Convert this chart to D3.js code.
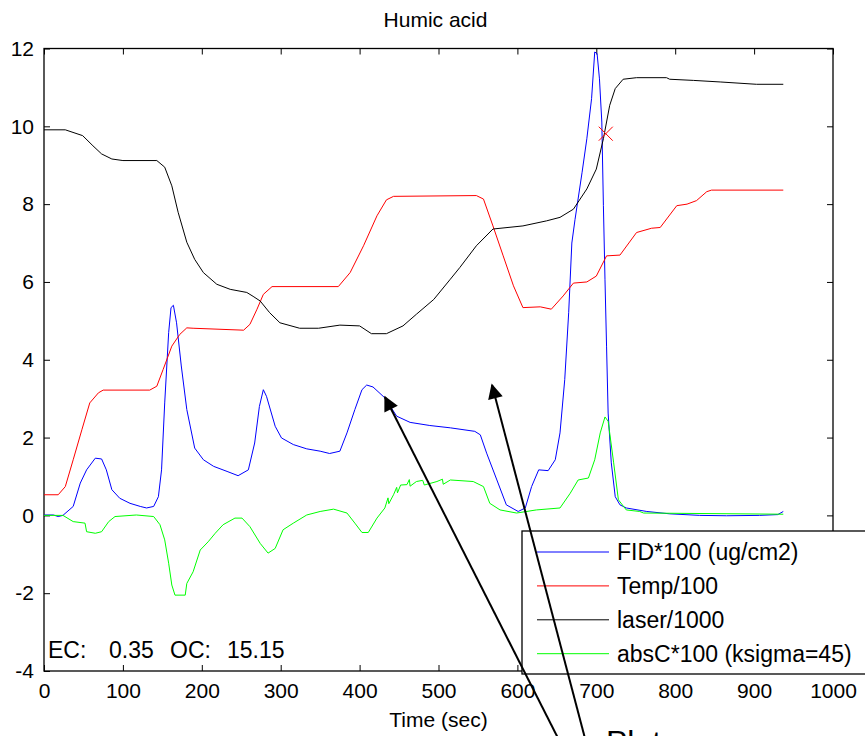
<!DOCTYPE html>
<html lang="en">
<head>
<meta charset="utf-8">
<title>Humic acid</title>
<script src="https://cdn.jsdelivr.net/npm/d3@7"></script>
<style>
  body { margin: 0; background: #fff; }
  svg { display: block; font-family: "Liberation Sans", Arial, sans-serif; }
</style>
</head>
<body>
<script>
// values: [time (sec), value]
var laser = [[0,9.91],[27,9.91],[49,9.76],[62,9.5],[73,9.29],[86,9.16],[100,9.12],[143,9.12],[153,8.95],
  [162,8.47],[170,7.79],[181,7.02],[191,6.58],[202,6.24],[219,5.94],[236,5.81],[257,5.73],[265,5.63],
  [274,5.51],[286,5.21],[299,4.95],[324,4.81],[348,4.81],[375,4.89],[400,4.87],[415,4.67],[434,4.67],
  [455,4.87],[472,5.17],[494,5.55],[515,6.07],[527,6.37],[548,6.93],[569,7.36],[607,7.44],[637,7.57],
  [654,7.66],[671,7.87],[688,8.39],[700,8.9],[709,9.68],[717,10.54],[724,10.97],[734,11.21],[751,11.25],
  [789,11.25],[793,11.21],[823,11.18],[857,11.14],[903,11.08],[937,11.08]];

var temp = [[0,0.53],[18,0.53],[27,0.74],[37,1.43],[48,2.2],[58,2.89],[69,3.15],[75,3.22],[134,3.22],
  [143,3.32],[151,3.75],[162,4.35],[172,4.65],[181,4.82],[189,4.81],[253,4.76],[261,4.91],[270,5.3],
  [278,5.68],[289,5.88],[373,5.88],[388,6.24],[405,6.93],[422,7.7],[434,8.11],[443,8.2],[548,8.22],
  [557,8.13],[569,7.44],[582,6.67],[595,5.9],[607,5.34],[629,5.36],[643,5.3],[658,5.64],[671,5.97],
  [688,6.0],[700,6.15],[713,6.67],[730,6.69],[751,7.27],[770,7.38],[781,7.4],[802,7.96],[815,8.0],
  [827,8.09],[840,8.32],[846,8.36],[937,8.36]];

var fid = [[0,0.01],[12,0.01],[18,-0.03],[24,0],[37,0.23],[46,0.83],[54,1.17],[65,1.47],[73,1.45],
  [79,1.17],[86,0.66],[96,0.44],[109,0.31],[122,0.23],[130,0.19],[139,0.23],[145,0.48],[149,1.17],
  [153,2.89],[158,4.7],[161,5.34],[164,5.4],[168,4.95],[174,3.84],[181,2.72],[191,1.73],[202,1.43],
  [215,1.26],[232,1.13],[246,1.02],[259,1.17],[267,1.86],[273,2.8],[278,3.23],[282,3.06],[293,2.29],
  [301,1.99],[316,1.82],[333,1.71],[350,1.65],[362,1.59],[375,1.65],[384,2.12],[394,2.72],[403,3.23],
  [409,3.35],[417,3.3],[432,3.02],[447,2.55],[464,2.39],[489,2.31],[515,2.25],[546,2.16],[553,2.07],
  [561,1.6],[574,0.91],[586,0.27],[601,0.1],[610,0.19],[618,0.74],[627,1.17],[639,1.15],[648,1.43],
  [654,2.12],[660,3.49],[665,5.21],[669,7.0],[673,7.6],[682,8.82],[688,9.68],[694,10.71],[698,11.91],
  [701,11.87],[704,11.22],[707,10.11],[709,7.96],[711,6.07],[713,4.35],[715,2.63],[719,1.35],[724,0.48],
  [730,0.27],[738,0.19],[764,0.1],[793,0.04],[831,0],[865,-0.01],[907,0],[930,0.02],[937,0.1]];

var absC = [[0,0],[24,0],[37,-0.16],[52,-0.2],[54,-0.42],[65,-0.46],[73,-0.42],[82,-0.16],[90,-0.03],
  [117,0.01],[139,-0.03],[147,-0.24],[153,-0.63],[158,-1.23],[162,-1.79],[166,-2.05],[179,-2.05],
  [181,-1.75],[189,-1.45],[198,-0.89],[208,-0.68],[217,-0.46],[227,-0.24],[242,-0.07],[251,-0.07],
  [261,-0.29],[274,-0.72],[284,-0.97],[293,-0.85],[303,-0.37],[316,-0.2],[333,0.01],[350,0.1],
  [367,0.16],[384,0.06],[394,-0.2],[403,-0.44],[411,-0.44],[422,-0.07],[432,0.19],[436,0.45],[437,0.3],
  [443,0.53],[447,0.72],[448,0.58],[452,0.78],[460,0.79],[463,0.92],[464,0.75],[472,0.87],[480,0.9],
  [482,0.78],[498,0.87],[505,0.93],[506,0.8],[515,0.91],[544,0.87],[557,0.74],[565,0.31],[578,0.14],
  [599,0.06],[624,0.14],[654,0.19],[667,0.57],[677,0.91],[690,0.96],[698,1.43],[705,2.12],[711,2.53],
  [715,2.42],[722,1.35],[728,0.4],[738,0.14],[755,0.1],[760,0.06],[937,0.03]];

var marker = [712, 9.81];

var xTicks = [0, 100, 200, 300, 400, 500, 600, 700, 800, 900, 1000];
var yTicks = [-4, -2, 0, 2, 4, 6, 8, 10, 12];
var seriesNames = ["FID*100 (ug/cm2)", "Temp/100", "laser/1000", "absC*100 (ksigma=45)"];
var seriesColors = ["#0000ff", "#ff0000", "#000000", "#00ff00"];
var resultParts = ["EC:", "0.35", "OC:", "15.15"];

var W = 865, H = 736;
var padL = 44, padR = 833, padT = 48.5, padB = 671;

var svg = d3.select("body").append("svg").attr("width", W).attr("height", H);
svg.append("rect").attr("width", W).attr("height", H).attr("fill", "#fff");

var x = d3.scaleLinear().domain([0, 1000]).range([padL, padR]);
var y = d3.scaleLinear().domain([-4, 12]).range([padB, padT]);
var fmt = function(d){ return String(d); };

// axes: ticks pointing inward, on all four sides
svg.append("g").attr("transform", "translate(0," + padB + ")")
  .call(d3.axisBottom(x).tickValues(xTicks).tickSize(-6).tickPadding(12).tickFormat(fmt))
  .call(function(g){ g.select(".domain").remove(); });
svg.append("g").attr("transform", "translate(0," + padT + ")")
  .call(d3.axisTop(x).tickValues(xTicks).tickSize(-6).tickFormat(""))
  .call(function(g){ g.select(".domain").remove(); });
svg.append("g").attr("transform", "translate(" + padL + ",0)")
  .call(d3.axisLeft(y).tickValues(yTicks).tickSize(-6).tickPadding(10).tickFormat(fmt))
  .call(function(g){ g.select(".domain").remove(); });
svg.append("g").attr("transform", "translate(" + padR + ",0)")
  .call(d3.axisRight(y).tickValues(yTicks).tickSize(-6).tickFormat(""))
  .call(function(g){ g.select(".domain").remove(); });

svg.selectAll(".tick line").attr("stroke", "#000");
svg.selectAll(".tick text").attr("font-size", 21).attr("fill", "#000")
  .attr("font-family", "'Liberation Sans', Arial, sans-serif");

svg.append("rect").attr("x", padL).attr("y", padT)
  .attr("width", padR - padL).attr("height", padB - padT)
  .attr("fill", "none").attr("stroke", "#000").attr("stroke-width", 1.3);

var line = d3.line().x(function(d){ return x(d[0]); }).y(function(d){ return y(d[1]); });

[fid, temp, laser, absC].forEach(function(s, i){
  svg.append("path").datum(s).attr("d", line)
    .attr("fill", "none").attr("stroke", seriesColors[i]).attr("stroke-width", 1);
});

// red x marker
var mx = x(marker[0]), my = y(marker[1]), ms = 7;
svg.append("path")
  .attr("d", "M" + (mx - ms) + "," + (my - ms) + "L" + (mx + ms) + "," + (my + ms) +
             "M" + (mx - ms) + "," + (my + ms) + "L" + (mx + ms) + "," + (my - ms))
  .attr("stroke", "#ff0000").attr("stroke-width", 1);

// titles
svg.append("text").attr("x", (padL + padR) / 2 - 3).attr("y", 27).attr("text-anchor", "middle")
  .attr("font-size", 21).text("Humic acid");
svg.append("text").attr("x", (padL + padR) / 2).attr("y", 727).attr("text-anchor", "middle")
  .attr("font-size", 21).text("Time (sec)");

// EC / OC result text
var partX = [48, 109, 170, 227];
var rt = svg.append("text").attr("y", 658).attr("font-size", 23);
resultParts.forEach(function(p, i){
  rt.append("tspan").attr("x", partX[i]).text(p);
});

// legend
var lg = svg.append("g");
lg.append("rect").attr("x", 522).attr("y", 531).attr("width", 360).attr("height", 143)
  .attr("fill", "#fff").attr("stroke", "#000").attr("stroke-width", 1.3);
seriesNames.forEach(function(name, i){
  var yy = 552 + i * 33.9;
  lg.append("line").attr("x1", 537).attr("x2", 609).attr("y1", yy).attr("y2", yy)
    .attr("stroke", seriesColors[i]).attr("stroke-width", 1);
  lg.append("text").attr("x", 617).attr("y", yy + 8).attr("font-size", 23).text(name);
});

// callout arrows and text at the bottom
svg.append("defs").append("marker").attr("id", "head")
  .attr("viewBox", "0 0 10 10").attr("refX", 9).attr("refY", 5)
  .attr("markerWidth", 19).attr("markerHeight", 15).attr("orient", "auto")
  .attr("markerUnits", "userSpaceOnUse")
  .append("path").attr("d", "M0,0L10,5L0,10Z").attr("fill", "#000");
[[562, 736, 385, 397], [587, 736, 492, 385]].forEach(function(a){
  svg.append("line").attr("x1", a[0]).attr("y1", a[1] + 10).attr("x2", a[2]).attr("y2", a[3])
    .attr("stroke", "#000").attr("stroke-width", 2).attr("marker-end", "url(#head)");
});
svg.append("text").attr("x", 606).attr("y", 753).attr("font-size", 32).text("Plot");
</script>
</body>
</html>
